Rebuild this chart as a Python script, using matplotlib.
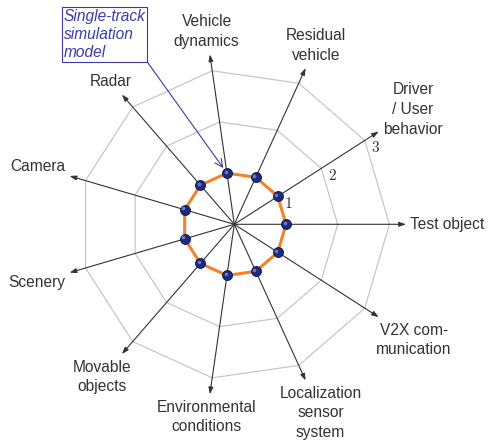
import numpy as np
import matplotlib
matplotlib.use("Agg")
import matplotlib.pyplot as plt
import matplotlib.transforms as mtransforms

# 11 Achsen des Netzdiagramms (gegen den Uhrzeigersinn, ab "Test object")
categories = ["Test object", "Driver\n/ User\nbehavior", "Residual\nvehicle",
              "Vehicle\ndynamics", "Radar", "Camera", "Scenery",
              "Movable\nobjects", "Environmental\nconditions",
              "Localization\nsensor\nsystem", "V2X com-\nmunication"]
values = [1, 1, 1, 1, 1, 1, 1, 1, 1, 1, 1]
levels = [1, 2, 3]
level_labels = ["1", "2", "3"]
note_text = "Single-track\nsimulation\nmodel"
note_axis = 3          # Index der Achse, auf die der Kasten zeigt

plt.rcParams['font.family'] = ['Liberation Sans', 'DejaVu Sans']
plt.rcParams['mathtext.fontset'] = 'cm'

W, H = 489, 440
cx, cy = 234.3, 224.3      # Mittelpunkt in Bildpixeln (y nach unten)
u = 51.7                   # Pixel je Einheit
axis_len = 3.32

fig = plt.figure(figsize=(W / 100, H / 100), dpi=100)
ax = fig.add_axes([0, 0, 1, 1])
ax.set_xlim(-cx / u, (W - cx) / u)
ax.set_ylim(-(H - cy) / u, cy / u)
ax.axis('off')

n = len(categories)
ang = 2 * np.pi * np.arange(n) / n
ca, sa = np.cos(ang), np.sin(ang)

# Gitter (Elfecke)
for lv in levels:
    ax.plot(np.append(lv * ca, lv * ca[0]), np.append(lv * sa, lv * sa[0]),
            color='#c4c4c4', lw=0.85, zorder=1)

# Achsenpfeile
for i in range(n):
    ax.annotate('', xy=(axis_len * ca[i], axis_len * sa[i]), xytext=(0, 0),
                arrowprops=dict(arrowstyle='-|>,head_length=0.4,head_width=0.14',
                                color='#333333', lw=0.8, shrinkA=0, shrinkB=0,
                                mutation_scale=10), zorder=2)

# Skalenwerte an der zweiten Achse
off = mtransforms.offset_copy(ax.transData, fig=fig, x=7.9, y=-5.0, units='points')
for lv, lab in zip(levels, level_labels):
    ax.text(lv * ca[1], lv * sa[1], '$' + lab + '$', transform=off, fontsize=11,
            color='#333333', ha='center', va='center', zorder=3)

# Datenpolygon
v = np.array(values, dtype=float)
px, py = v * ca, v * sa
ax.plot(np.append(px, px[0]), np.append(py, py[0]), color='#f5822a', lw=2.2, zorder=4)
ax.plot(px, py, 'o', ms=7.2, color='#1c2a7e', mec='#0f1850', mew=0.6, zorder=5)
hl = mtransforms.offset_copy(ax.transData, fig=fig, x=-1.0, y=1.0, units='points')
ax.plot(px, py, 'o', ms=2.6, color='#7f8fd8', mew=0, alpha=0.8, transform=hl, zorder=6)

# Achsenbeschriftungen: Rand des Textkastens am Pfeilende verankert
texts = []
for i in range(n):
    t = ax.text(0, 0, categories[i], fontsize=11.2, color='#333333', ha='center',
                va='center', multialignment='center', linespacing=1.38, zorder=3)
    texts.append(t)
fig.canvas.draw()
r = fig.canvas.get_renderer()
pad_h, pad_v = 4.5, 5.5
for i, t in enumerate(texts):
    bb = t.get_window_extent(renderer=r)
    hw = (bb.width / 2 + pad_h) / u
    hh = (bb.height / 2 + pad_v) / u
    c, s = ca[i], sa[i]
    d = min(hw / abs(c) if abs(c) > 1e-9 else 1e9, hh / abs(s) if abs(s) > 1e-9 else 1e9)
    t.set_position((axis_len * c + d * c, axis_len * s + d * s))

# Hinweiskasten mit Pfeil
blue = '#3b3ba6'
ax.annotate(note_text, xy=(px[note_axis], py[note_axis]), xycoords='data',
            xytext=(64, H - 9), textcoords='figure pixels', ha='left', va='top',
            fontsize=11.2, style='italic', color=blue, linespacing=1.25,
            bbox=dict(boxstyle='square,pad=0.1', fc='white', ec=blue, lw=0.8),
            arrowprops=dict(arrowstyle='->,head_length=0.5,head_width=0.25',
                            color=blue, lw=0.8, relpos=(1, 0), shrinkA=0, shrinkB=4.5),
            zorder=7)

fig.savefig('out.png', dpi=100)
